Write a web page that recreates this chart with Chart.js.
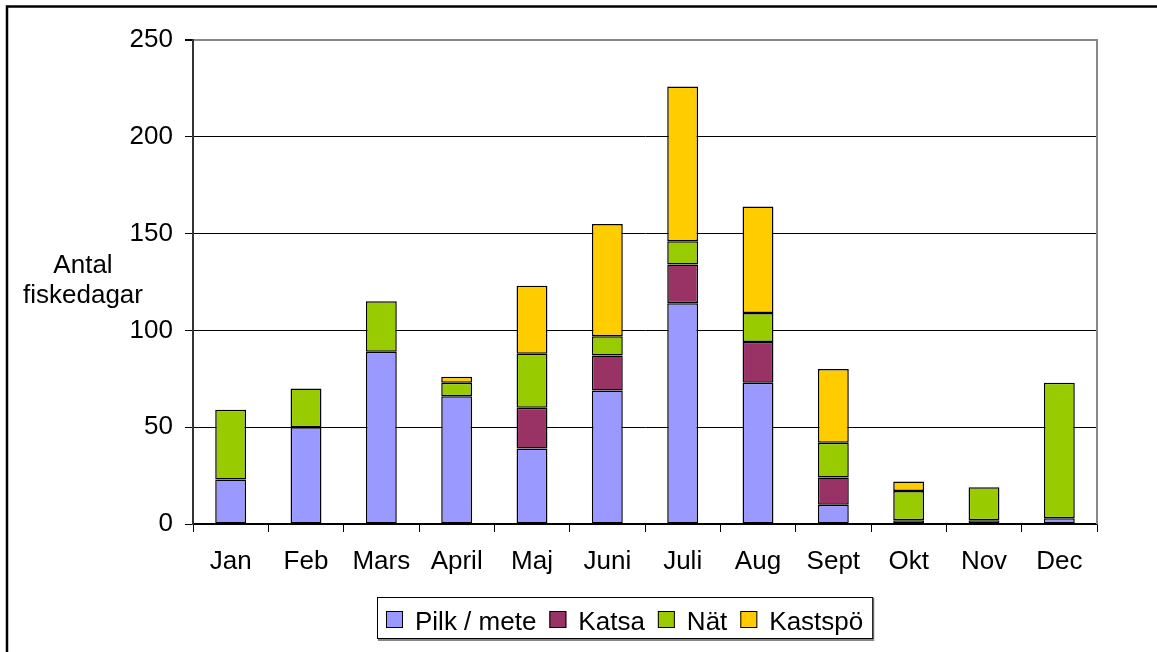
<!DOCTYPE html>
<html>
<head>
<meta charset="utf-8">
<script src="https://cdn.jsdelivr.net/npm/chart.js@4"></script>
<style>
  html, body { margin: 0; padding: 0; background: #fff; }
  canvas { display: block; }
</style>
</head>
<body>
<canvas id="chart" width="1157" height="652"></canvas>
<script>
const months = ['Jan', 'Feb', 'Mars', 'April', 'Maj', 'Juni', 'Juli', 'Aug', 'Sept', 'Okt', 'Nov', 'Dec'];
const pilk = [23, 50, 89, 66, 39, 69, 114, 73, 10, 2, 2, 3];
const katsa = [null, null, null, null, 21, 18, 20, 21, 14, null, null, null];
const nat = [36, 20, 26, 7, 28, 10, 12, 15, 18, 15, 17, 70];
const kastspo = [null, null, null, 3, 35, 58, 80, 55, 38, 5, null, null];
const yTicks = [0, 50, 100, 150, 200, 250];
const yTitle = ['Antal', 'fiskedagar'];

const FONT = "'Liberation Sans', Arial, sans-serif";
Chart.defaults.font.family = FONT;
Chart.defaults.font.size = 26;
Chart.defaults.color = '#000';

// y title, plot frame, legend box and outer border
const decor = {
    id: 'decor',
    afterDraw(chart) {
        const ctx = chart.ctx;
        const area = chart.chartArea;
        ctx.save();

        // outer border (only top/left visible in the picture)
        ctx.strokeStyle = '#000';
        ctx.lineWidth = 2.5;
        ctx.beginPath();
        ctx.moveTo(7, 660);
        ctx.lineTo(7, 6.5);
        ctx.lineTo(1165, 6.5);
        ctx.stroke();

        // right plot border
        ctx.strokeStyle = '#888';
        ctx.lineWidth = 2;
        ctx.beginPath();
        ctx.moveTo(area.right, area.top - 1);
        ctx.lineTo(area.right, area.bottom);
        ctx.stroke();

        // y axis title, horizontal, two lines
        ctx.fillStyle = '#000';
        ctx.font = '26px ' + FONT;
        ctx.textAlign = 'center';
        ctx.textBaseline = 'alphabetic';
        ctx.fillText(yTitle[0], 83, 273);
        ctx.fillText(yTitle[1], 83, 303);

        // legend
        ctx.textAlign = 'left';
        let x = 386;
        const items = chart.data.datasets;
        items.forEach(ds => {
            ctx.fillStyle = ds.backgroundColor;
            ctx.fillRect(x, 611, 17, 17);
            ctx.strokeStyle = '#000';
            ctx.lineWidth = 1;
            ctx.strokeRect(x + 0.5, 611.5, 16, 16);
            ctx.fillStyle = '#000';
            ctx.fillText(ds.label, x + 29, 630);
            x += 29 + ctx.measureText(ds.label).width + 13;
        });
        const boxRight = x - 13 + 9;
        ctx.fillStyle = '#888';
        ctx.fillRect(378, 639, boxRight - 377, 2);
        ctx.fillRect(boxRight, 598, 2, 43);
        ctx.strokeStyle = '#000';
        ctx.lineWidth = 1;
        ctx.strokeRect(377.5, 597.5, boxRight - 377, 41);

        ctx.restore();
    }
};

const barStyle = {
    borderColor: '#000',
    borderWidth: 1.5,
    borderSkipped: false,
    barPercentage: 0.41,
    categoryPercentage: 1
};

new Chart(document.getElementById('chart'), {
    type: 'bar',
    data: {
        labels: months,
        datasets: [
            { label: 'Pilk / mete', data: pilk, backgroundColor: '#9999FF', ...barStyle },
            { label: 'Katsa', data: katsa, backgroundColor: '#993366', ...barStyle },
            { label: 'Nät', data: nat, backgroundColor: '#99CC00', ...barStyle },
            { label: 'Kastspö', data: kastspo, backgroundColor: '#FFCC00', ...barStyle }
        ]
    },
    options: {
        responsive: false,
        animation: false,
        devicePixelRatio: 1,
        layout: { padding: { top: 40, right: 60, left: 0, bottom: 0 } },
        plugins: {
            legend: { display: false },
            tooltip: { enabled: false }
        },
        scales: {
            x: {
                stacked: true,
                afterFit: s => { s.height = 128; },
                grid: {
                    offset: true,
                    drawOnChartArea: false,
                    tickLength: 8,
                    color: '#000'
                },
                border: { color: '#000', width: 1.5 },
                ticks: { padding: 14, maxRotation: 0 }
            },
            y: {
                stacked: true,
                min: 0,
                max: 250,
                afterFit: s => { s.width = 193; },
                afterBuildTicks: s => { s.ticks = yTicks.map(v => ({ value: v })); },
                grid: {
                    color: c => (c.tick && c.tick.value === 250 ? '#888' : '#000'),
                    lineWidth: c => (c.tick && c.tick.value === 250 ? 2 : 1),
                    tickColor: '#000',
                    tickLength: 8
                },
                border: { color: '#333', width: 2 },
                ticks: { padding: 12 }
            }
        }
    },
    plugins: [decor]
});
</script>
</body>
</html>
